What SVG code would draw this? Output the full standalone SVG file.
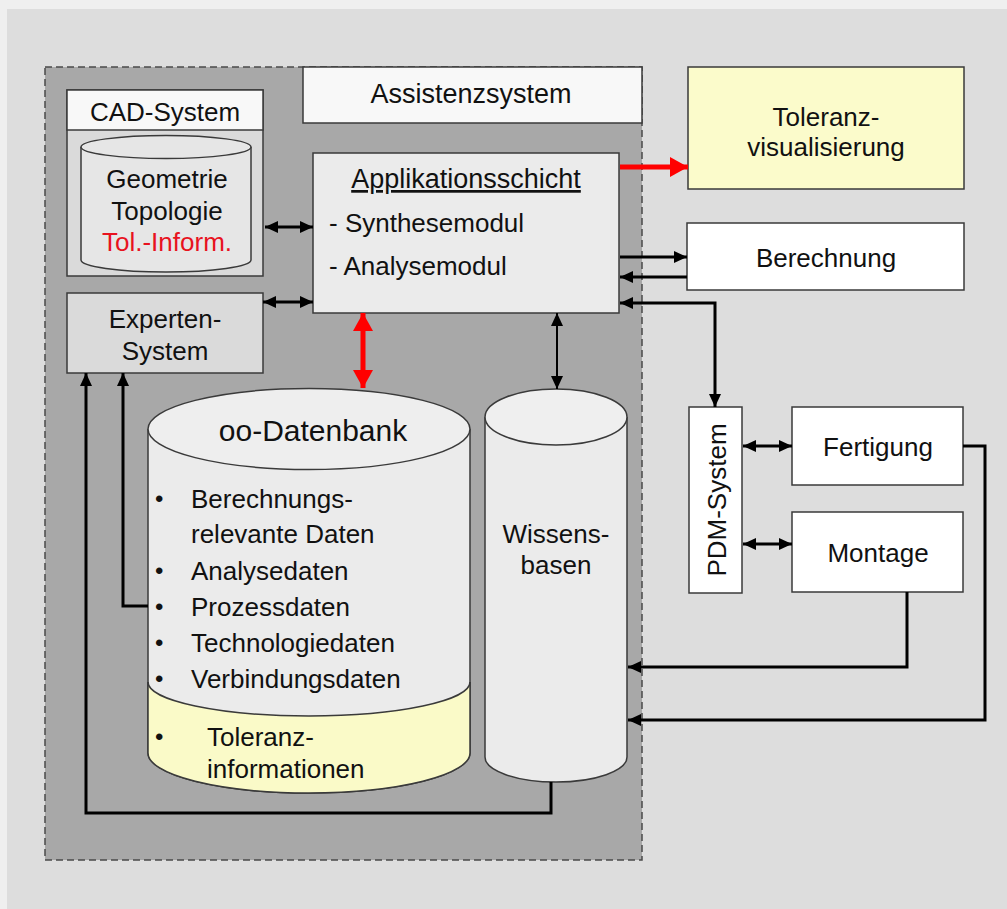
<svg xmlns="http://www.w3.org/2000/svg" width="1007" height="909" viewBox="0 0 1007 909">
<style>
text{font-family:"Liberation Sans",Arial,sans-serif;font-size:26px;fill:#111}
.c{text-anchor:middle}
.b{font-size:24px}
.box{stroke:#3a3a3a;stroke-width:1.5}
.ln{fill:none;stroke:#000;stroke-width:3}
.red{fill:none;stroke:#f00;stroke-width:5}
</style>
<defs>
<marker id="ah" markerUnits="userSpaceOnUse" markerWidth="13" markerHeight="12" refX="13" refY="6" orient="auto-start-reverse"><path d="M0,0 L13,6 L0,12 z" fill="#000"/></marker>
<marker id="rh" markerUnits="userSpaceOnUse" markerWidth="18" markerHeight="20" refX="18" refY="10" orient="auto-start-reverse"><path d="M0,0 L18,10 L0,20 z" fill="#f00"/></marker>
</defs>
<rect width="1007" height="909" fill="#efefef"/>
<rect x="7" y="9" width="1000" height="900" fill="#dddddd"/>

<g id="assistenzsystem">
<rect x="45" y="67" width="597" height="793" fill="#a8a8a8" stroke="#4a4a4a" stroke-width="1.5" stroke-dasharray="7,4"/>
<rect class="box" x="303" y="67" width="339" height="56" fill="#f8f8f8"/>
<text class="c" x="471" y="103" style="font-size:27px">Assistenzsystem</text>
</g>

<g id="cad-system">
<rect class="box" x="67" y="90" width="196" height="186" fill="#dadada"/>
<rect class="box" x="67" y="90" width="196" height="40" fill="#f8f8f8"/>
<text class="c" x="165" y="121">CAD-System</text>
<path class="box" d="M81,147 V260 A85,12 0 0 0 251,260 V147" fill="#e6e6e6"/>
<ellipse class="box" cx="166" cy="147" rx="85" ry="11.5" fill="#e6e6e6"/>
<text class="c" x="167" y="188">Geometrie</text>
<text class="c" x="167" y="220">Topologie</text>
<text class="c" x="167" y="251" style="fill:#e8121e">Tol.-Inform.</text>
</g>

<g id="experten-system">
<rect class="box" x="67" y="293" width="196" height="80" fill="#dadada"/>
<text class="c" x="165" y="328">Experten-</text>
<text class="c" x="165" y="360">System</text>
</g>

<g id="applikationsschicht">
<rect class="box" x="313" y="153" width="306" height="160" fill="#ebebeb"/>
<text class="c" x="466" y="188" text-decoration="underline" style="font-size:27px">Applikationsschicht</text>
<text x="329" y="232">- Synthesemodul</text>
<text x="329" y="275">- Analysemodul</text>
</g>

<g id="toleranzvisualisierung">
<rect class="box" x="688" y="67" width="276" height="122" fill="#fbfbcb"/>
<text class="c" x="826" y="126">Toleranz-</text>
<text class="c" x="826" y="156">visualisierung</text>
</g>

<g id="berechnung">
<rect class="box" x="687" y="223" width="277" height="67" fill="#ffffff"/>
<text class="c" x="826" y="267">Berechnung</text>
</g>

<g id="pdm-system">
<rect class="box" x="689" y="407" width="53" height="186" fill="#ffffff"/>
<text class="c" transform="translate(726,500) rotate(-90)" x="0" y="0">PDM-System</text>
</g>

<g id="fertigung">
<rect class="box" x="792" y="407" width="171" height="78" fill="#ffffff"/>
<text class="c" x="878" y="456">Fertigung</text>
</g>

<g id="montage">
<rect class="box" x="792" y="512" width="171" height="80" fill="#ffffff"/>
<text class="c" x="878" y="562">Montage</text>
</g>

<g id="oo-datenbank">
<path class="box" d="M148,429 V753 A161,40 0 0 0 470,753 V429" fill="#ebebeb"/>
<path d="M148,682 A161,34 0 0 0 470,682 V753 A161,40 0 0 1 148,753 Z" fill="#fafac8"/>
<path class="box" d="M148,682 A161,34 0 0 0 470,682" fill="none"/>
<path class="box" d="M148,682 V753 A161,40 0 0 0 470,753 V682" fill="none"/>
<ellipse class="box" cx="309" cy="429" rx="161" ry="40.5" fill="#eeeeee"/>
<text class="c" x="313" y="441" style="font-size:30px">oo-Datenbank</text>
<text class="b" x="155" y="507">•</text><text x="191" y="508">Berechnungs-</text>
<text x="191" y="543">relevante Daten</text>
<text class="b" x="155" y="579">•</text><text x="191" y="580">Analysedaten</text>
<text class="b" x="155" y="615">•</text><text x="191" y="616">Prozessdaten</text>
<text class="b" x="155" y="651">•</text><text x="191" y="652">Technologiedaten</text>
<text class="b" x="155" y="687">•</text><text x="191" y="688">Verbindungsdaten</text>
<text class="b" x="155" y="745">•</text><text x="207" y="746">Toleranz-</text>
<text x="207" y="778">informationen</text>
</g>

<g id="wissensbasen">
<path class="box" d="M485,417 V757 A71,25 0 0 0 627,757 V417" fill="#ebebeb"/>
<ellipse class="box" cx="556" cy="417" rx="71" ry="28" fill="#efefef"/>
<text class="c" x="556" y="543">Wissens-</text>
<text class="c" x="556" y="574">basen</text>
</g>

<g id="connectors">
<line class="ln" x1="265" y1="227" x2="313" y2="227" marker-start="url(#ah)" marker-end="url(#ah)"/>
<line class="ln" x1="263" y1="302" x2="313" y2="302" marker-start="url(#ah)" marker-end="url(#ah)"/>
<line class="red" x1="620" y1="167" x2="688" y2="167" marker-end="url(#rh)"/>
<line class="ln" x1="620" y1="257" x2="687" y2="257" marker-end="url(#ah)"/>
<line class="ln" x1="687" y1="277" x2="620" y2="277" marker-end="url(#ah)"/>
<path class="ln" d="M620,303 H715 V407" marker-start="url(#ah)" marker-end="url(#ah)"/>
<line class="ln" x1="743" y1="446" x2="792" y2="446" marker-start="url(#ah)" marker-end="url(#ah)"/>
<line class="ln" x1="743" y1="544" x2="792" y2="544" marker-start="url(#ah)" marker-end="url(#ah)"/>
<path class="ln" d="M907,592 V667 H628" marker-end="url(#ah)"/>
<path class="ln" d="M963,446 H985 V720 H628" marker-end="url(#ah)"/>
<line class="red" x1="363" y1="313" x2="363" y2="388" marker-start="url(#rh)" marker-end="url(#rh)"/>
<line class="ln" x1="557" y1="313" x2="557" y2="389" marker-start="url(#ah)" marker-end="url(#ah)" style="stroke-width:2"/>
<path class="ln" d="M148,606 H123 V373" marker-end="url(#ah)"/>
<path class="ln" d="M551,782 V813 H86 V373" marker-end="url(#ah)"/>
</g>
</svg>
